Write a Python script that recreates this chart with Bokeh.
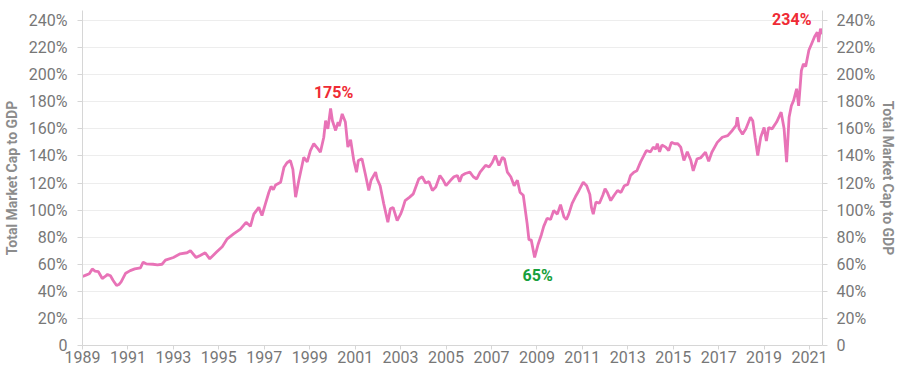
from bokeh.plotting import figure
from bokeh.models import LinearAxis, FixedTicker, Range1d, ColumnDataSource
from bokeh.embed import file_html
from bokeh.resources import INLINE
from bokeh.core.properties import value

# ---- data (decimal year, market cap / GDP in %) ----
years = [
    1989.00, 1989.15, 1989.30, 1989.43, 1989.55, 1989.70, 1989.87, 1990.00, 1990.10, 1990.23,
    1990.35, 1990.50, 1990.60, 1990.70, 1990.90, 1991.10, 1991.30, 1991.55, 1991.67, 1991.80,
    1992.10, 1992.30, 1992.50, 1992.65, 1993.00, 1993.30, 1993.60, 1993.75, 1994.00, 1994.20,
    1994.40, 1994.60, 1994.90, 1995.15, 1995.37, 1995.65, 1995.95, 1996.20, 1996.39, 1996.54,
    1996.76, 1996.90, 1997.05, 1997.20, 1997.30, 1997.40, 1997.50, 1997.72, 1997.87, 1998.00,
    1998.15, 1998.26, 1998.38, 1998.52, 1998.74, 1998.89, 1999.03, 1999.18, 1999.33, 1999.47,
    1999.62, 1999.70, 1999.80, 1999.92, 2000.00, 2000.14, 2000.25, 2000.30, 2000.43, 2000.57,
    2000.68, 2000.80, 2000.94, 2001.06, 2001.14, 2001.30, 2001.45, 2001.60, 2001.70, 2001.90,
    2001.97, 2002.10, 2002.26, 2002.44, 2002.55, 2002.67, 2002.85, 2003.00, 2003.07, 2003.20,
    2003.40, 2003.56, 2003.80, 2003.95, 2004.10, 2004.25, 2004.40, 2004.55, 2004.73, 2004.88,
    2005.00, 2005.20, 2005.35, 2005.50, 2005.60, 2005.70, 2005.85, 2006.05, 2006.20, 2006.35,
    2006.50, 2006.74, 2006.90, 2007.03, 2007.17, 2007.33, 2007.48, 2007.57, 2007.70, 2007.85,
    2008.00, 2008.14, 2008.26, 2008.40, 2008.57, 2008.65, 2008.75, 2008.90, 2009.05, 2009.20,
    2009.30, 2009.45, 2009.60, 2009.74, 2009.90, 2010.04, 2010.19, 2010.30, 2010.40, 2010.55,
    2010.70, 2010.85, 2011.04, 2011.19, 2011.33, 2011.40, 2011.48, 2011.60, 2011.75, 2011.90,
    2012.00, 2012.10, 2012.25, 2012.40, 2012.55, 2012.70, 2012.85, 2013.00, 2013.12, 2013.27,
    2013.40, 2013.56, 2013.70, 2013.82, 2014.00, 2014.12, 2014.23, 2014.30, 2014.40, 2014.50,
    2014.67, 2014.80, 2014.92, 2015.07, 2015.20, 2015.33, 2015.47, 2015.62, 2015.77, 2015.88,
    2016.05, 2016.20, 2016.42, 2016.56, 2016.70, 2016.94, 2017.16, 2017.40, 2017.60, 2017.77,
    2017.82, 2017.90, 2018.05, 2018.20, 2018.40, 2018.50, 2018.60, 2018.72, 2018.85, 2019.00,
    2019.10, 2019.20, 2019.35, 2019.55, 2019.75, 2019.88, 2019.99, 2020.10, 2020.20, 2020.30,
    2020.43, 2020.52, 2020.64, 2020.73, 2020.83, 2020.97, 2021.12, 2021.22, 2021.34, 2021.40,
    2021.48, 2021.55, 2021.57,
]
ratio = [
    51.0, 52.0, 53.0, 56.5, 55.0, 54.5, 49.5, 51.0, 52.5, 51.5,
    48.0, 44.3, 45.0, 47.0, 53.4, 55.3, 56.6, 57.4, 61.5, 60.3,
    60.0, 59.5, 60.0, 63.0, 65.0, 67.7, 68.5, 70.0, 65.0, 66.7,
    68.5, 64.0, 69.0, 73.0, 78.8, 82.5, 86.0, 91.0, 88.0, 97.0,
    102.0, 96.0, 104.6, 113.0, 117.5, 115.0, 118.6, 120.6, 131.7, 135.0,
    136.6, 130.0, 109.5, 121.9, 139.0, 135.6, 144.0, 149.0, 146.0, 142.7,
    153.8, 166.0, 160.0, 175.0, 166.0, 158.8, 165.0, 162.0, 171.0, 165.0,
    146.5, 152.0, 136.6, 128.0, 136.6, 137.9, 126.5, 114.5, 122.0, 128.0,
    123.0, 118.0, 104.6, 91.0, 101.0, 102.0, 92.3, 97.0, 100.0, 107.0,
    109.6, 112.0, 123.0, 124.6, 120.0, 121.0, 114.5, 117.0, 125.6, 122.0,
    118.0, 122.0, 124.6, 125.6, 121.0, 125.6, 127.0, 128.0, 124.6, 123.0,
    128.0, 133.0, 131.9, 135.0, 140.3, 133.0, 139.0, 137.9, 128.0, 124.6,
    118.0, 122.0, 113.0, 111.0, 90.0, 78.0, 78.0, 65.0, 74.6, 82.0,
    88.0, 94.0, 93.0, 99.7, 97.0, 104.0, 95.0, 93.0, 97.0, 105.0,
    110.0, 114.5, 120.6, 118.0, 111.6, 102.0, 97.0, 106.0, 105.0, 111.0,
    115.7, 113.0, 107.0, 111.0, 114.5, 113.0, 118.0, 119.0, 125.5, 128.0,
    129.0, 135.4, 140.0, 144.0, 143.0, 146.5, 145.0, 149.0, 143.0, 148.0,
    146.5, 144.0, 150.0, 149.0, 149.0, 146.5, 136.6, 143.0, 137.0, 129.0,
    137.9, 138.5, 142.7, 136.0, 142.7, 150.0, 153.8, 155.0, 158.8, 162.5,
    168.6, 160.0, 156.0, 160.0, 168.6, 166.0, 153.8, 140.3, 153.8, 161.0,
    151.0, 161.0, 160.0, 165.0, 172.3, 160.0, 135.4, 168.6, 177.0, 181.0,
    189.6, 177.0, 203.0, 208.0, 206.0, 218.0, 224.0, 228.0, 231.4, 224.0,
    234.0, 230.0, 233.0,
]
x_ticks = list(range(1989, 2022, 2))
y_ticks = list(range(0, 241, 20))
y_tick_labels = {t: ("0" if t == 0 else f"{t}%") for t in y_ticks}
axis_title = "Total Market Cap to GDP"

# ---- styling ----
FONT = "Roboto"
LINE_COLOR = "#e873b7"
RED = "#ef2b35"
GREEN = "#17a03c"
TICK_COLOR = "#777777"
TITLE_COLOR = "#8c8c8c"
AXIS_COLOR = "#d6d6d6"

p = figure(width=900, height=379, output_backend="svg", toolbar_location=None,
           x_range=Range1d(1989.0, 2021.57), y_range=Range1d(0, 247.4),
           min_border_left=82, min_border_right=78, min_border_top=10, min_border_bottom=34)
p.outline_line_color = None
p.background_fill_color = "white"
p.xgrid.grid_line_color = None
p.ygrid.grid_line_color = "#ededed"
p.ygrid.ticker = FixedTicker(ticks=y_ticks)

src = ColumnDataSource(dict(x=years, y=ratio))
p.line("x", "y", source=src, line_color=LINE_COLOR, line_width=2.8)

# x axis
xa = p.xaxis[0]
xa.ticker = FixedTicker(ticks=x_ticks)
xa.major_label_text_font = FONT
xa.major_label_text_font_size = "16px"
xa.major_label_text_color = TICK_COLOR
xa.axis_line_color = AXIS_COLOR
xa.major_tick_line_color = AXIS_COLOR
xa.major_tick_out = 4
xa.major_tick_in = 0
xa.minor_tick_line_color = None
xa.major_label_standoff = 1


def style_y(ax, label_standoff, title_standoff):
    ax.ticker = FixedTicker(ticks=y_ticks)
    ax.major_label_overrides = y_tick_labels
    ax.major_label_text_font = FONT
    ax.major_label_text_font_size = "16px"
    ax.major_label_text_color = TICK_COLOR
    ax.axis_line_color = AXIS_COLOR
    ax.major_tick_line_color = AXIS_COLOR
    ax.major_tick_out = 5
    ax.major_tick_in = 0
    ax.minor_tick_line_color = None
    ax.major_label_standoff = label_standoff
    ax.axis_label = axis_title
    ax.axis_label_text_font = FONT
    ax.axis_label_text_font_size = "14px"
    ax.axis_label_text_font_style = "bold"
    ax.axis_label_text_color = TITLE_COLOR
    ax.axis_label_standoff = title_standoff


style_y(p.yaxis[0], 10, 6)
ra = LinearAxis(y_range_name="default")
style_y(ra, 9, 2)
p.add_layout(ra, "right")

# ---- annotations derived from the data ----
i_max = max(range(len(ratio)), key=lambda i: ratio[i])
early = [i for i in range(len(years)) if years[i] < 2005]
late = [i for i in range(len(years)) if 2005 <= years[i] < 2015]
i_peak = max(early, key=lambda i: ratio[i])
i_min = min(late, key=lambda i: ratio[i])

def lab(i):
    return f"{round(ratio[i])}%"

p.text(x=[years[i_peak]], y=[ratio[i_peak]], text=[lab(i_peak)], text_color=RED,
       text_font=value(FONT), text_font_size="16px", text_font_style="bold",
       text_align="center", text_baseline="bottom", x_offset=3, y_offset=-7)
p.text(x=[years[i_min]], y=[ratio[i_min]], text=[lab(i_min)], text_color=GREEN,
       text_font=value(FONT), text_font_size="16px", text_font_style="bold",
       text_align="center", text_baseline="top", x_offset=3, y_offset=9)
p.text(x=[years[i_max]], y=[ratio[i_max]], text=[lab(i_max)], text_color=RED,
       text_font=value(FONT), text_font_size="16px", text_font_style="bold",
       text_align="right", text_baseline="middle", x_offset=-9, y_offset=-9)

open("out.html", "w").write(file_html(p, INLINE))
